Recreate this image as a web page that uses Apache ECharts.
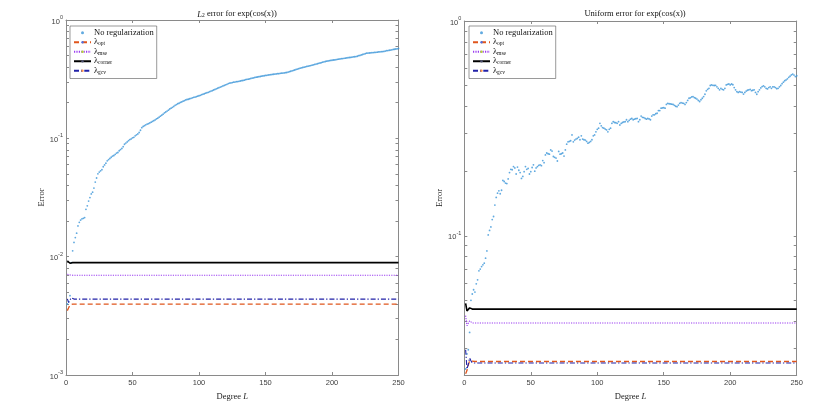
<!DOCTYPE html>
<html>
<head>
<meta charset="utf-8">
<title>Regularization errors</title>
<script src="https://cdn.jsdelivr.net/npm/echarts@6/dist/echarts.min.js"></script>
<style>
  html, body { margin: 0; padding: 0; background: #fff; }
  #chart { width: 830px; height: 417px; }
</style>
</head>
<body>
<div id="chart"></div>
<script>
// error of the unregularized fit, degree L = 1..250
var l2NoReg = [
  0.00398, 0.00417, 0.00468, 0.00891, 0.0112, 0.0132, 0.0145, 0.0158, 0.0182, 0.0195,
  0.0204, 0.0209, 0.0211, 0.0214, 0.0251, 0.0269, 0.0295, 0.0316, 0.0339, 0.0351,
  0.0380, 0.0427, 0.0462, 0.0501, 0.0519, 0.0531, 0.0543, 0.0575, 0.0596, 0.0617,
  0.0646, 0.0661, 0.0676, 0.0692, 0.0708, 0.0716, 0.0733, 0.0750, 0.0759, 0.0785,
  0.0804, 0.0822, 0.0851, 0.0891, 0.0912, 0.0933, 0.0955, 0.0977, 0.0989, 0.101,
  0.102, 0.105, 0.107, 0.109, 0.112, 0.117, 0.123, 0.126, 0.128, 0.130,
  0.132, 0.133, 0.135, 0.137, 0.139, 0.141, 0.143, 0.146, 0.148, 0.151,
  0.154, 0.157, 0.160, 0.164, 0.167, 0.170, 0.173, 0.177, 0.180, 0.183,
  0.186, 0.190, 0.193, 0.196, 0.198, 0.201, 0.203, 0.206, 0.208, 0.211,
  0.213, 0.214, 0.216, 0.218, 0.220, 0.222, 0.223, 0.225, 0.227, 0.229,
  0.231, 0.234, 0.236, 0.238, 0.241, 0.243, 0.245, 0.248, 0.251, 0.253,
  0.256, 0.259, 0.262, 0.265, 0.268, 0.271, 0.274, 0.277, 0.280, 0.283,
  0.286, 0.290, 0.293, 0.294, 0.296, 0.298, 0.299, 0.301, 0.302, 0.303,
  0.305, 0.307, 0.308, 0.310, 0.313, 0.315, 0.316, 0.318, 0.321, 0.323,
  0.324, 0.327, 0.329, 0.330, 0.332, 0.333, 0.335, 0.337, 0.338, 0.340,
  0.341, 0.343, 0.344, 0.345, 0.347, 0.348, 0.349, 0.350, 0.352, 0.352,
  0.354, 0.355, 0.356, 0.357, 0.359, 0.360, 0.363, 0.366, 0.369, 0.372,
  0.375, 0.378, 0.382, 0.385, 0.388, 0.392, 0.394, 0.397, 0.399, 0.402,
  0.405, 0.407, 0.410, 0.412, 0.415, 0.418, 0.421, 0.424, 0.427, 0.430,
  0.433, 0.436, 0.440, 0.443, 0.446, 0.449, 0.451, 0.453, 0.455, 0.457,
  0.459, 0.460, 0.462, 0.465, 0.467, 0.469, 0.471, 0.472, 0.474, 0.476,
  0.478, 0.480, 0.482, 0.483, 0.485, 0.488, 0.489, 0.491, 0.494, 0.499,
  0.502, 0.507, 0.511, 0.515, 0.519, 0.524, 0.525, 0.526, 0.528, 0.530,
  0.531, 0.532, 0.533, 0.535, 0.537, 0.538, 0.540, 0.541, 0.543, 0.546,
  0.550, 0.552, 0.555, 0.557, 0.560, 0.564, 0.566, 0.569, 0.571, 0.575
];
var uniNoReg = [
  0.0240, 0.0282, 0.0295, 0.0355, 0.0501, 0.0536, 0.0561, 0.0547, 0.0598, 0.0624,
  0.0687, 0.0700, 0.0719, 0.0733, 0.0746, 0.0787, 0.0851, 0.101, 0.106, 0.110,
  0.119, 0.123, 0.139, 0.151, 0.158, 0.162, 0.157, 0.163, 0.181, 0.179,
  0.176, 0.175, 0.184, 0.197, 0.204, 0.203, 0.210, 0.207, 0.194, 0.209,
  0.202, 0.197, 0.185, 0.189, 0.199, 0.210, 0.204, 0.206, 0.194, 0.199,
  0.208, 0.214, 0.200, 0.207, 0.210, 0.213, 0.214, 0.212, 0.224, 0.219,
  0.238, 0.243, 0.241, 0.240, 0.251, 0.248, 0.234, 0.232, 0.230, 0.223,
  0.247, 0.240, 0.241, 0.243, 0.235, 0.251, 0.267, 0.274, 0.275, 0.277,
  0.295, 0.274, 0.279, 0.282, 0.284, 0.288, 0.280, 0.292, 0.282, 0.280,
  0.279, 0.275, 0.270, 0.272, 0.275, 0.280, 0.292, 0.295, 0.305, 0.313,
  0.317, 0.334, 0.325, 0.319, 0.317, 0.314, 0.311, 0.305, 0.313, 0.317,
  0.334, 0.340, 0.337, 0.336, 0.334, 0.340, 0.328, 0.334, 0.337, 0.339,
  0.340, 0.347, 0.340, 0.345, 0.349, 0.352, 0.347, 0.349, 0.351, 0.352,
  0.340, 0.347, 0.361, 0.356, 0.355, 0.352, 0.349, 0.352, 0.350, 0.347,
  0.361, 0.366, 0.366, 0.370, 0.372, 0.383, 0.383, 0.393, 0.394, 0.395,
  0.393, 0.409, 0.414, 0.412, 0.411, 0.410, 0.409, 0.405, 0.401, 0.399,
  0.406, 0.414, 0.417, 0.415, 0.414, 0.409, 0.417, 0.427, 0.437, 0.439,
  0.443, 0.445, 0.440, 0.437, 0.433, 0.427, 0.422, 0.430, 0.437, 0.445,
  0.456, 0.473, 0.481, 0.486, 0.501, 0.504, 0.502, 0.501, 0.502, 0.494,
  0.486, 0.478, 0.486, 0.481, 0.478, 0.486, 0.504, 0.507, 0.509, 0.504,
  0.509, 0.505, 0.490, 0.478, 0.469, 0.465, 0.469, 0.467, 0.465, 0.457,
  0.465, 0.472, 0.476, 0.478, 0.481, 0.474, 0.476, 0.478, 0.465, 0.456,
  0.469, 0.478, 0.488, 0.495, 0.499, 0.494, 0.486, 0.483, 0.490, 0.494,
  0.486, 0.494, 0.494, 0.490, 0.484, 0.486, 0.494, 0.501, 0.511, 0.519,
  0.527, 0.532, 0.538, 0.547, 0.553, 0.561, 0.566, 0.560, 0.551, 0.556
];

// regularized errors: they settle after a few degrees and stay flat up to 250
var lineDegrees = [1, 2, 3, 4, 5, 6, 7, 8, 250];
var l2Opt    = [0.0035, 0.0037, 0.0039, 0.0040, 0.00397, 0.00397, 0.00397, 0.00397, 0.00397];
var l2Mse    = [0.0071, 0.0069, 0.0070, 0.00697, 0.00697, 0.00697, 0.00697, 0.00697, 0.00697];
var l2Corner = [0.0092, 0.0090, 0.0088, 0.0089, 0.00891, 0.00891, 0.00891, 0.00891, 0.00891];
var l2Gcv    = [0.0044, 0.0041, 0.0042, 0.0045, 0.00438, 0.00438, 0.00438, 0.00438, 0.00438];
var uniOpt    = [0.0228, 0.0236, 0.0250, 0.0262, 0.0266, 0.0261, 0.0260, 0.0260, 0.0260];
var uniMse    = [0.0425, 0.0382, 0.0385, 0.0402, 0.0396, 0.0393, 0.0393, 0.0393, 0.0393];
var uniCorner = [0.0485, 0.0447, 0.0452, 0.0462, 0.0458, 0.0456, 0.0456, 0.0456, 0.0456];
var uniGcv    = [0.0295, 0.0240, 0.0252, 0.0270, 0.0262, 0.0256, 0.0256, 0.0256, 0.0256];

// axis ticks
var xTicks = [0, 50, 100, 150, 200, 250];
var l2Major = [0.001, 0.01, 0.1, 1];
var l2Minor = [0.002, 0.003, 0.004, 0.005, 0.006, 0.007, 0.008, 0.009,
               0.02, 0.03, 0.04, 0.05, 0.06, 0.07, 0.08, 0.09,
               0.2, 0.3, 0.4, 0.5, 0.6, 0.7, 0.8, 0.9];
var uniMajor = [0.1, 1];
var uniMinor = [0.03, 0.04, 0.05, 0.06, 0.07, 0.08, 0.09,
                0.2, 0.3, 0.4, 0.5, 0.6, 0.7, 0.8, 0.9];

var names = ["No regularization", "λ_opt", "λ_mse", "λ_corner", "λ_gcv"];

var AXIS = "#8a8a8a";
var TEXT = "#404040";
var SERIF = "'Liberation Serif', 'DejaVu Serif', serif";
var SANS = "'Liberation Sans', Arial, sans-serif";

function pairs(xs, ys) {
    return ys.map(function (v, i) { return [xs[i], v]; });
}
function byDegree(ys) {
    return ys.map(function (v, i) { return [i + 1, v]; });
}

function xAxes(grid) {
    var base = {
        type: "value", gridIndex: grid, min: 0, max: 250,
        axisLine: { show: true, onZero: false, lineStyle: { color: AXIS, width: 1 } },
        axisTick: { show: true, inside: true, length: 3, customValues: xTicks, lineStyle: { color: AXIS } },
        splitLine: { show: false }
    };
    var bottom = Object.assign({}, base, {
        position: "bottom",
        axisLabel: { customValues: xTicks, color: TEXT, fontFamily: SANS, fontSize: 7.5, margin: 4 },
        name: "Degree {i|L}", nameLocation: "middle", nameGap: 11,
        nameTextStyle: { color: "#222", fontFamily: SERIF, fontSize: 8.5,
            rich: { i: { fontStyle: "italic", fontFamily: SERIF, fontSize: 8.5 } } }
    });
    var top = Object.assign({}, base, { position: "top", axisLabel: { show: false } });
    return [bottom, top];
}

function yAxes(grid, min, major, minor) {
    var ticks = major.concat(minor);
    var base = {
        type: "log", logBase: 10, gridIndex: grid, min: min, max: 1,
        axisLine: { show: true, onZero: false, lineStyle: { color: AXIS, width: 1 } },
        axisTick: { show: true, inside: true, length: 3, customValues: ticks, lineStyle: { color: AXIS } },
        splitLine: { show: false },
        minorTick: { show: false }
    };
    var left = Object.assign({}, base, {
        position: "left",
        axisLabel: {
            customValues: major, margin: 3, color: TEXT, fontFamily: SANS,
            formatter: function (v) {
                var e = Math.round(Math.log10(v));
                return "{b|10}{s|" + e + "}";
            },
            rich: {
                b: { fontSize: 7.5, lineHeight: 11, verticalAlign: "bottom", color: TEXT, fontFamily: SANS },
                s: { fontSize: 5.5, lineHeight: 8, verticalAlign: "top", color: TEXT, fontFamily: SANS }
            }
        },
        name: "Error", nameLocation: "middle", nameGap: 16, nameRotate: 90,
        nameTextStyle: { color: "#222", fontFamily: SERIF, fontSize: 8.5 }
    });
    var right = Object.assign({}, base, { position: "right", axisLabel: { show: false } });
    return [left, right];
}

function legendFor(left) {
    return {
        left: left, top: 26, orient: "vertical",
        itemWidth: 17, itemHeight: 3, itemGap: 0,
        padding: [2, 3, 3, 3],
        backgroundColor: "#fff", borderColor: "#555", borderWidth: 0.6, borderRadius: 0,
        selectedMode: false,
        data: names,
        formatter: function (name) {
            if (name.indexOf("λ_") === 0) {
                return "λ{sub|" + name.slice(2) + "}";
            }
            return name;
        },
        textStyle: {
            color: "#111", fontFamily: SERIF, fontSize: 8.5, lineHeight: 9.5, padding: [0, 0, 0, -2],
            rich: {
                sub: { fontFamily: SERIF, fontSize: 5.5, lineHeight: 6, verticalAlign: "bottom", color: "#111" }
            }
        }
    };
}

function seriesFor(grid, noReg, opt, mse, corner, gcv) {
    var xi = grid * 2, yi = grid * 2;
    return [
        { name: names[0], type: "scatter", xAxisIndex: xi, yAxisIndex: yi,
          symbol: "circle", symbolSize: 1.8, itemStyle: { color: "#3a95d8" },
          data: byDegree(noReg) },
        { name: names[1], type: "line", xAxisIndex: xi, yAxisIndex: yi, symbol: "none",
          lineStyle: { color: "#e0561c", width: 1.3, type: [5, 3] }, data: pairs(lineDegrees, opt) },
        { name: names[2], type: "line", xAxisIndex: xi, yAxisIndex: yi, symbol: "none",
          lineStyle: { color: "#9a3cf0", width: 1.1, type: [1.2, 1.2] }, data: pairs(lineDegrees, mse) },
        { name: names[3], type: "line", xAxisIndex: xi, yAxisIndex: yi, symbol: "none",
          lineStyle: { color: "#000", width: 1.6, type: "solid" }, data: pairs(lineDegrees, corner) },
        { name: names[4], type: "line", xAxisIndex: xi, yAxisIndex: yi, symbol: "none",
          lineStyle: { color: "#2222a8", width: 1.1, type: [5, 2, 1.3, 2] }, data: pairs(lineDegrees, gcv) }
    ];
}

var myChart = echarts.init(document.getElementById("chart"), null, { renderer: "canvas" });

var option = {
    animation: false,
    backgroundColor: "#fff",
    title: [
        { text: "{i|L}{sub|2} error for exp(cos(x))", left: 232, top: 3, textAlign: "center",
          textStyle: { color: "#111", fontFamily: SERIF, fontSize: 8.5, fontWeight: "normal",
            rich: { i: { fontStyle: "italic", fontFamily: SERIF, fontSize: 8.5, lineHeight: 11, verticalAlign: "bottom" },
                    sub: { fontFamily: SERIF, fontSize: 5.5, lineHeight: 6, verticalAlign: "bottom" } } } },
        { text: "Uniform error for exp(cos(x))", left: 630, top: 4, textAlign: "center",
          textStyle: { color: "#111", fontFamily: SERIF, fontSize: 8.5, fontWeight: "normal" } }
    ],
    grid: [
        { left: 66, right: 431.5, top: 20, bottom: 42 },
        { left: 464.3, right: 33.3, top: 21, bottom: 42 }
    ],
    legend: [legendFor(70), legendFor(469)],
    xAxis: xAxes(0).concat(xAxes(1)),
    yAxis: yAxes(0, 0.001, l2Major, l2Minor).concat(yAxes(1, 0.0225, uniMajor, uniMinor)),
    series: seriesFor(0, l2NoReg, l2Opt, l2Mse, l2Corner, l2Gcv)
        .concat(seriesFor(1, uniNoReg, uniOpt, uniMse, uniCorner, uniGcv))
};

myChart.setOption(option);
window.addEventListener("resize", function () {
    myChart.resize();
});
</script>
</body>
</html>
